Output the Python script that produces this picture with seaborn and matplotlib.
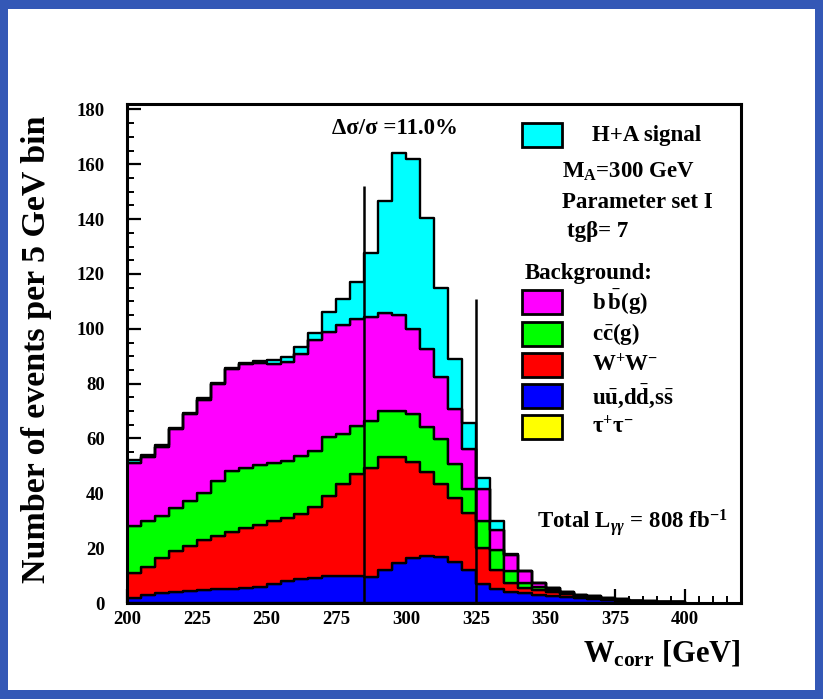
import numpy as np
import pandas as pd
import matplotlib
matplotlib.use("Agg")
import matplotlib.pyplot as plt
from matplotlib.patches import Rectangle
import seaborn as sns

# ---------------- data (events per 5 GeV bin, 200..400 GeV) ----------------
bin_edges = list(range(200, 405, 5))
signal_HA = [0.8, 0.6, 0.5, 0.4, 0.4, 0.4, 0.4, 0.4, 0.4, 0.7, 1.6, 1.7, 2.5, 2.7,
             7.1, 9.7, 13.3, 23.4, 40.9, 59.2, 62.0, 47.7, 32.3, 18.3, 9.5, 4.2,
             3.2, 0.3, 0.2, 0.1, 0.1, 0, 0, 0, 0, 0, 0, 0, 0, 0]
bkg_bb = [23.2, 23.6, 25.1, 28.7, 31.8, 34.0, 35.4, 37.1, 37.8, 37.4, 36.2, 36.2,
          37.3, 40.3, 38.5, 39.7, 39.3, 37.9, 35.5, 34.9, 31.1, 28.7, 22.6, 20.1,
          14.6, 11.7, 7.4, 6.0, 4.3, 1.3, 0.5, 0.4, 0.3, 0.2, 0.2, 0.2, 0.1, 0.1, 0.1, 0]
bkg_cc = [17.1, 16.5, 15.5, 15.9, 16.2, 17.1, 20.2, 22.3, 22.0, 21.6, 21.2, 20.8,
          21.3, 20.5, 21.4, 18.3, 17.5, 17.1, 17.1, 17.1, 17.7, 16.5, 16.5, 12.2,
          8.5, 9.8, 7.4, 4.3, 1.8, 1.2, 0.8, 0.4, 0.3, 0.2, 0.2, 0.1, 0.1, 0, 0, 0]
bkg_WW = [8.9, 10.3, 12.9, 14.8, 16.4, 18.3, 19.3, 20.6, 21.9, 22.6, 22.8, 23.0,
          23.5, 25.8, 29.2, 33.3, 37.1, 39.9, 41.0, 38.5, 34.8, 30.3, 26.5, 23.4,
          20.9, 13.0, 7.0, 3.2, 1.9, 1.8, 1.4, 1.0, 0.6, 0.5, 0.3, 0.2, 0.1, 0.1, 0, 0]
bkg_uds = [2.0, 3.0, 3.5, 4.0, 4.5, 4.8, 5.0, 5.2, 5.5, 6.0, 7.0, 8.0, 8.8, 9.2,
           9.8, 10.0, 9.8, 9.5, 12.0, 14.5, 16.4, 17.2, 16.8, 15.0, 12.0, 7.0, 5.0,
           4.0, 3.5, 3.0, 2.6, 2.2, 1.8, 1.5, 1.1, 0.8, 0.6, 0.4, 0.3, 0.2]
bkg_tautau = [0, 0, 0, 0, 0, 0, 0, 0, 0, 0, 0, 0, 0, 0, 0, 0, 0, 0, 0.1, 0.1,
              0.1, 0.1, 0.1, 0, 0, 0, 0, 0, 0, 0, 0, 0, 0, 0, 0, 0, 0, 0, 0, 0]
process_names = ["H+A signal", "bb(g)", "cc(g)", "W+W-", "uu,dd,ss", "tautau"]
process_colors = ["#00ffff", "#ff00ff", "#00ff00", "#ff0000", "#0000ff", "#ffff00"]
window_edges = [285, 325]
window_heights = [152, 111]

# ---------------- figure ----------------
W, H = 823, 699
sns.set_style("white")
plt.rcParams["font.family"] = ["Liberation Serif", "DejaVu Serif"]
plt.rcParams["font.weight"] = "bold"
plt.rcParams["text.color"] = "black"
plt.rcParams["xtick.color"] = "black"
plt.rcParams["ytick.color"] = "black"
plt.rcParams["axes.labelcolor"] = "black"
plt.rcParams["mathtext.fontset"] = "custom"
plt.rcParams["mathtext.rm"] = "Liberation Serif:bold"
plt.rcParams["mathtext.it"] = "Liberation Serif:italic:bold"
plt.rcParams["mathtext.bf"] = "Liberation Serif:bold"

fig = plt.figure(figsize=(W / 100, H / 100), dpi=100)
fig.patch.set_facecolor("#3458b6")
fig.patches.append(Rectangle((8 / W, 1 - 690 / H), (815 - 8) / W, (690 - 9) / H,
                             transform=fig.transFigure, facecolor="white",
                             edgecolor="none", zorder=-10))

def fx(px):
    return px / W

def fy(py):
    return 1 - py / H

ax = fig.add_axes([fx(127), fy(603), (741 - 127) / W, (603 - 104) / H])
ax.set_zorder(2)
ax.set_facecolor("white")

centers = [(a + b) / 2 for a, b in zip(bin_edges[:-1], bin_edges[1:])]
series = [signal_HA, bkg_bb, bkg_cc, bkg_WW, bkg_uds, bkg_tautau]
rows = []
for name, vals in zip(process_names, series):
    for c, v in zip(centers, vals):
        rows.append({"W": c, "count": v, "process": name})
df = pd.DataFrame(rows)

sns.histplot(data=df, x="W", weights="count", hue="process",
             hue_order=process_names, palette=process_colors,
             multiple="stack", element="step", bins=bin_edges,
             fill=True, alpha=1, edgecolor="black", linewidth=1.7,
             legend=False, ax=ax)

ax.vlines(window_edges, 0, window_heights, colors="black", linewidth=1.8, zorder=5)

ax.set_xlim(200, 420)
ax.set_ylim(0, 182)
ax.set_xlabel("")
ax.set_ylabel("")
ax.set_xticks(range(200, 401, 25))
ax.set_xticks(range(200, 421, 5), minor=True)
ax.set_yticks(range(0, 181, 20))
ax.set_yticks(range(0, 181, 5), minor=True)
ax.tick_params(axis="both", which="major", direction="in", length=10, width=1.6,
               labelsize=13.5, colors="black")
ax.tick_params(axis="both", which="minor", direction="in", length=5, width=1.4)
ax.tick_params(axis="y", which="major", pad=16)
ax.tick_params(axis="x", which="major", pad=6)
ax.tick_params(top=False, right=False, bottom=True, left=True, which="both")
for lab in ax.get_xticklabels() + ax.get_yticklabels():
    lab.set_fontweight("bold")
for sp in ax.spines.values():
    sp.set_visible(True)
    sp.set_linewidth(2.2)
    sp.set_color("black")

# axis titles
fig.text(fx(37), fy(349), "Number of events per 5 GeV bin", rotation=90,
         ha="center", va="center", fontsize=24.5, fontweight="bold")
fig.text(fx(741), fy(662), r"W$_{\mathrm{corr}}$ [GeV]", ha="right",
         va="baseline", fontsize=22, fontweight="bold")

# annotations
fig.text(fx(332), fy(128), "Δσ/σ =11.0%", ha="left", va="center",
         fontsize=16.5, fontweight="bold")
fig.text(fx(537), fy(523), r"Total L$_{\gamma\gamma}$ = 808 fb$^{-1}$",
         ha="left", va="center", fontsize=16.5, fontweight="bold")

# legend
def legend_box(cy, color):
    fig.patches.append(Rectangle((fx(522), fy(cy + 12)), 40 / W, 24 / H,
                                 transform=fig.transFigure, facecolor=color,
                                 edgecolor="black", linewidth=2, zorder=6))

legend_box(135, process_colors[0])
fig.text(fx(592), fy(135), "H+A signal", ha="left", va="center", fontsize=16.5,
         fontweight="bold")
fig.text(fx(562), fy(172), r"M$_{\mathrm{A}}$=300 GeV", ha="left", va="center",
         fontsize=16.5, fontweight="bold")
fig.text(fx(562), fy(203), "Parameter set I", ha="left", va="center",
         fontsize=16.5, fontweight="bold")
fig.text(fx(567), fy(231), "tgβ= 7", ha="left", va="center", fontsize=16.5,
         fontweight="bold")
fig.text(fx(525), fy(273), "Background:", ha="left", va="center", fontsize=16.5,
         fontweight="bold")

bkg_labels = [r"b$\,\bar{\mathrm{b}}$(g)", r"c$\bar{\mathrm{c}}$(g)",
              r"W$^{+}$W$^{-}$",
              r"u$\bar{\mathrm{u}}$,d$\bar{\mathrm{d}}$,s$\bar{\mathrm{s}}$",
              r"τ$^{+}$τ$^{-}$"]
bkg_y = [302, 334, 365, 396, 427]
for lab, cy, col in zip(bkg_labels, bkg_y, process_colors[1:]):
    legend_box(cy, col)
    fig.text(fx(592), fy(cy), lab, ha="left", va="center", fontsize=16.5,
             fontweight="bold")

fig.savefig("out.png", dpi=100, facecolor=fig.get_facecolor())
